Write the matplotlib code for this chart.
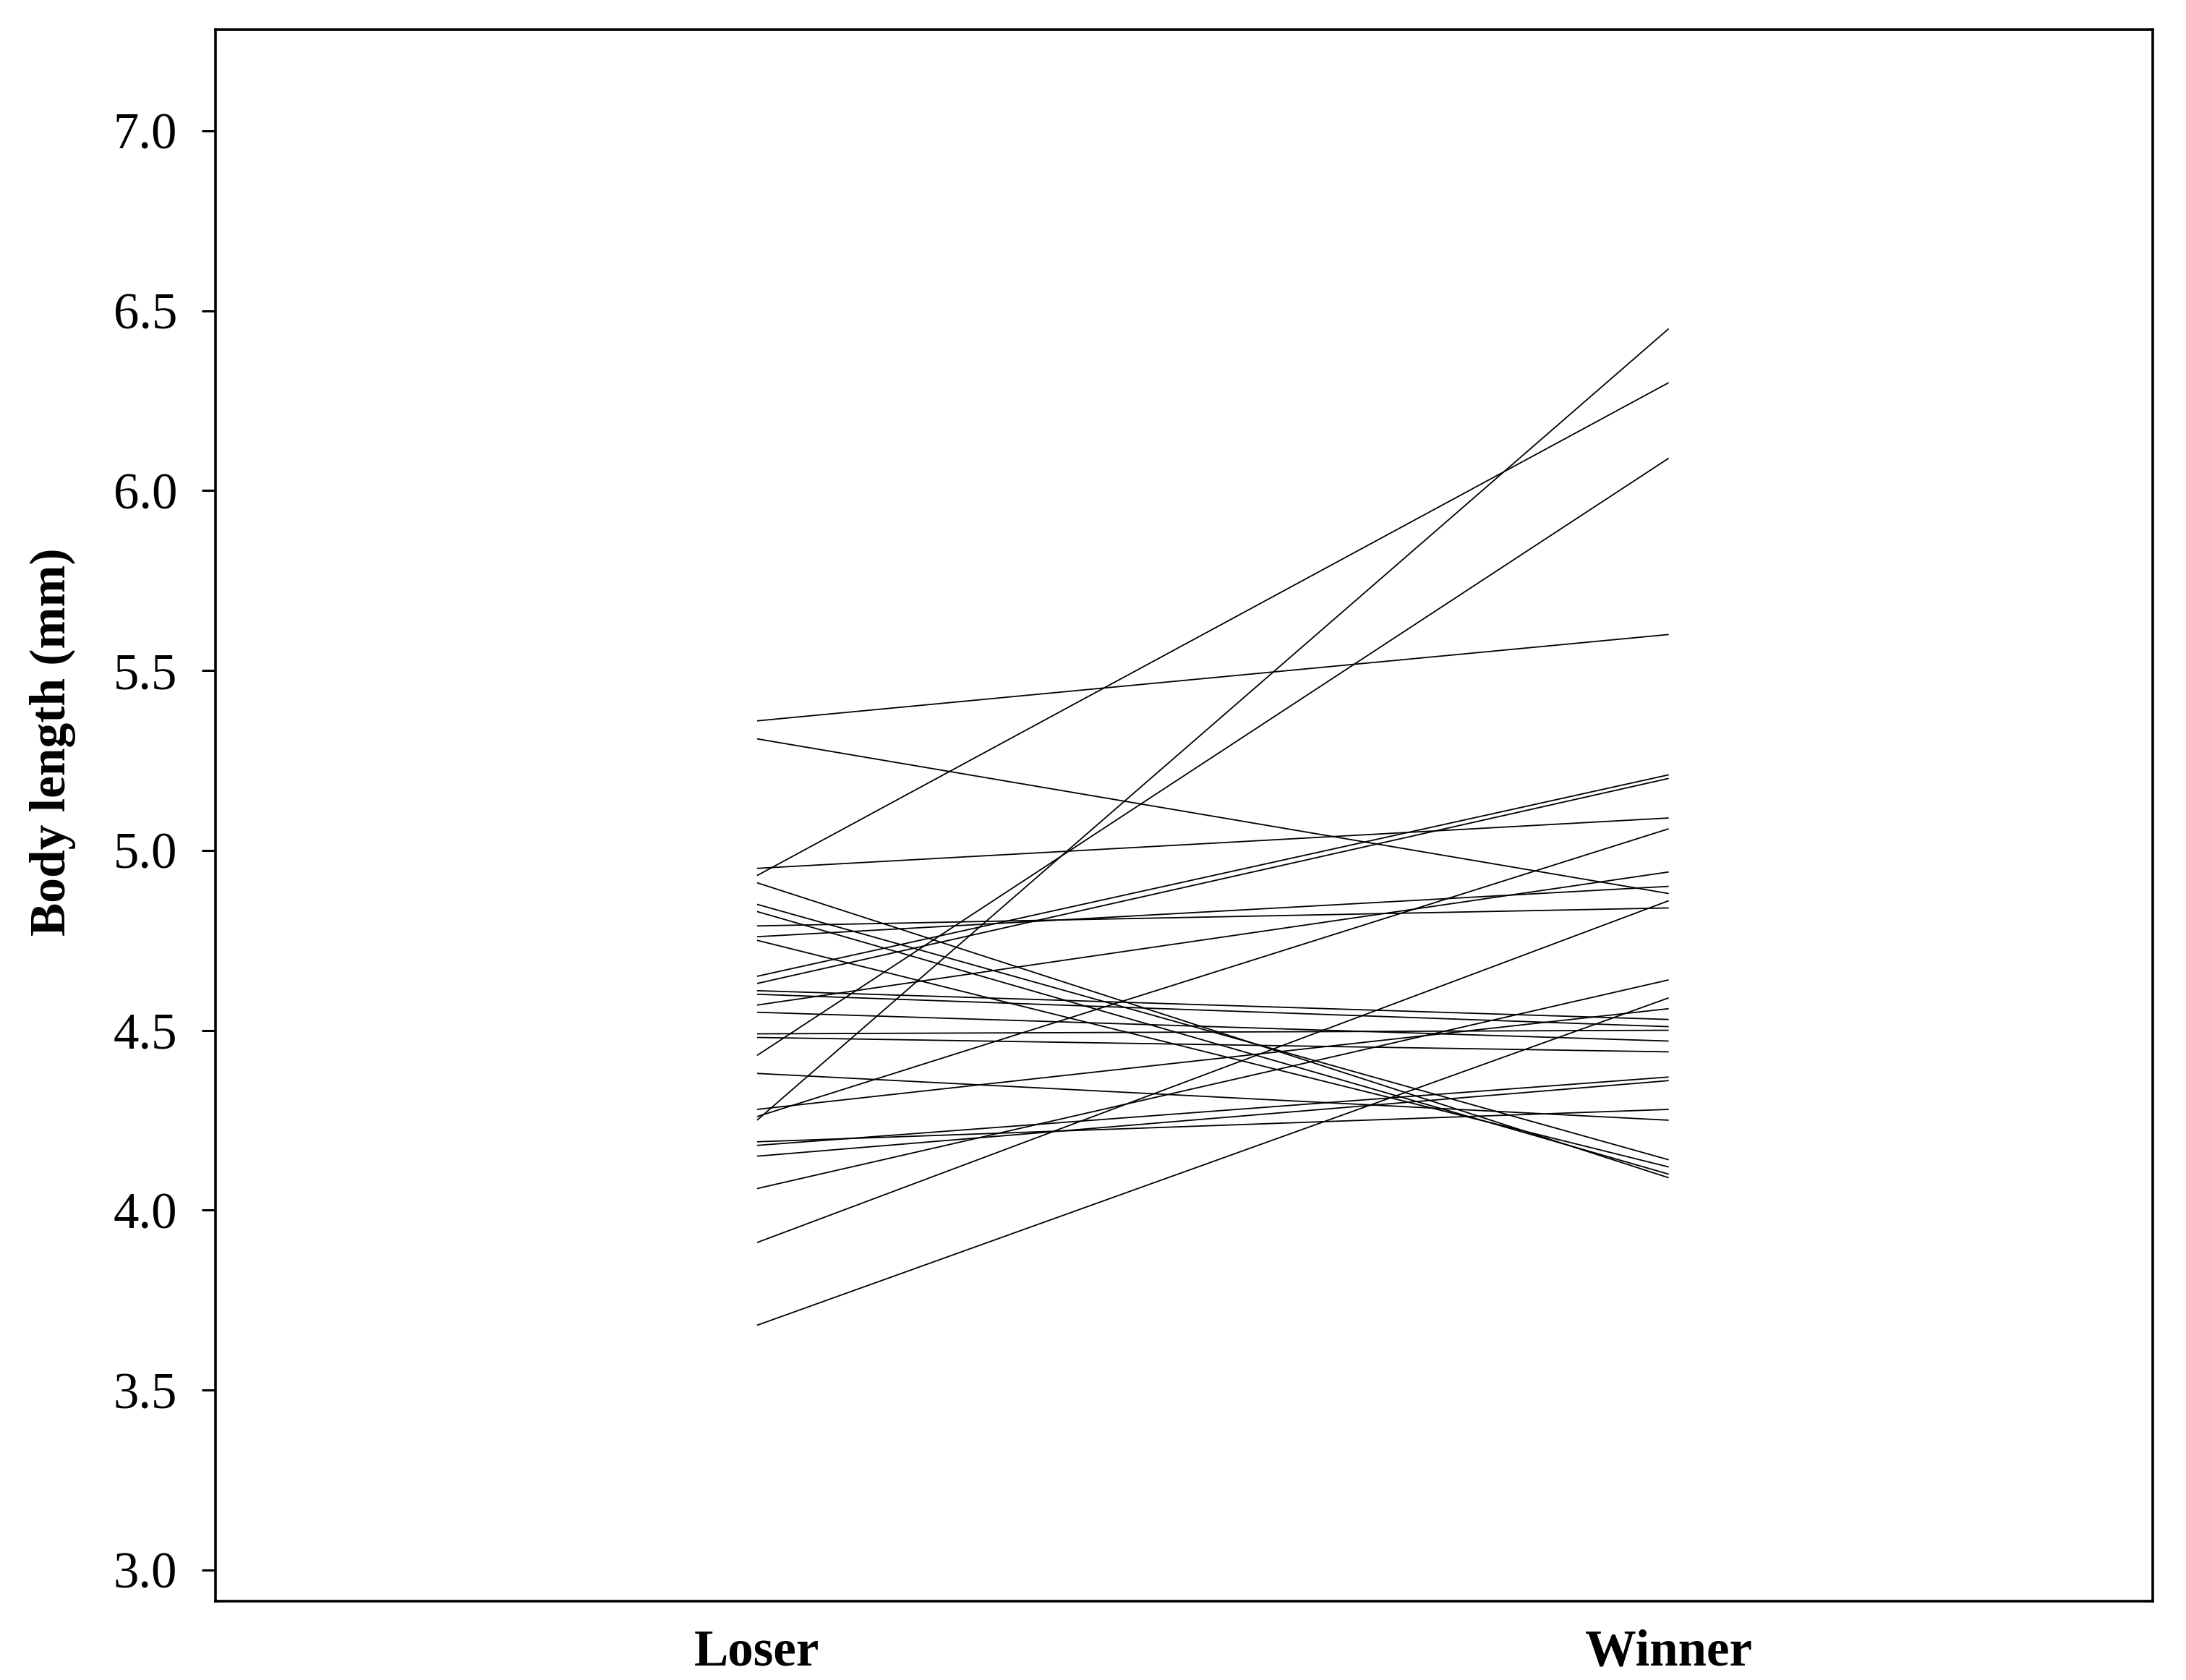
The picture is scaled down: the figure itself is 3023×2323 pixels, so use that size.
import matplotlib
matplotlib.use("Agg")
import matplotlib.pyplot as plt

# Data: paired body lengths (mm) of loser and winner in each contest
loser = [5.36, 5.31, 4.95, 4.93, 4.91, 4.85, 4.83, 4.79, 4.76, 4.75,
         4.65, 4.63, 4.61, 4.60, 4.57, 4.55, 4.49, 4.48, 4.43, 4.38,
         4.28, 4.26, 4.25, 4.19, 4.18, 4.15, 4.06, 3.91, 3.68]
winner = [5.60, 4.88, 5.09, 6.30, 4.09, 4.14, 4.10, 4.84, 4.90, 4.12,
          5.21, 5.20, 4.53, 4.51, 4.94, 4.47, 4.50, 4.44, 6.09, 4.25,
          4.56, 5.06, 6.45, 4.28, 4.37, 4.36, 4.64, 4.86, 4.59]
categories = ["Loser", "Winner"]
yticks = [3.0, 3.5, 4.0, 4.5, 5.0, 5.5, 6.0, 6.5, 7.0]

plt.rcParams['font.family'] = ['Liberation Serif', 'DejaVu Serif']

fig = plt.figure(figsize=(30.23, 23.23), dpi=100)
ax = fig.add_axes([0.0986, 0.0469, 0.8862, 0.9354])

for l, w in zip(loser, winner):
    ax.plot([1, 2], [l, w], color='black', lw=1.3, solid_capstyle='butt')

ax.set_xlim(0.406, 2.531)
ax.set_ylim(2.913, 7.281)
ax.set_yticks(yticks)
ax.set_yticklabels([f"{v:.1f}" for v in yticks], fontsize=51)
ax.tick_params(axis='y', length=14, width=2.2, pad=24)
ax.set_xticks([1, 2])
ax.set_xticklabels(categories, fontsize=51, fontweight='bold')
ax.tick_params(axis='x', length=0, pad=28)
for s in ax.spines.values():
    s.set_linewidth(2.6)

fig.text(73 / 3023, 1 - 1026 / 2323, "Body length (mm)", rotation=90,
         ha='center', va='center', fontsize=50, fontweight='bold')

fig.savefig("out.png", dpi=100, facecolor='white')
